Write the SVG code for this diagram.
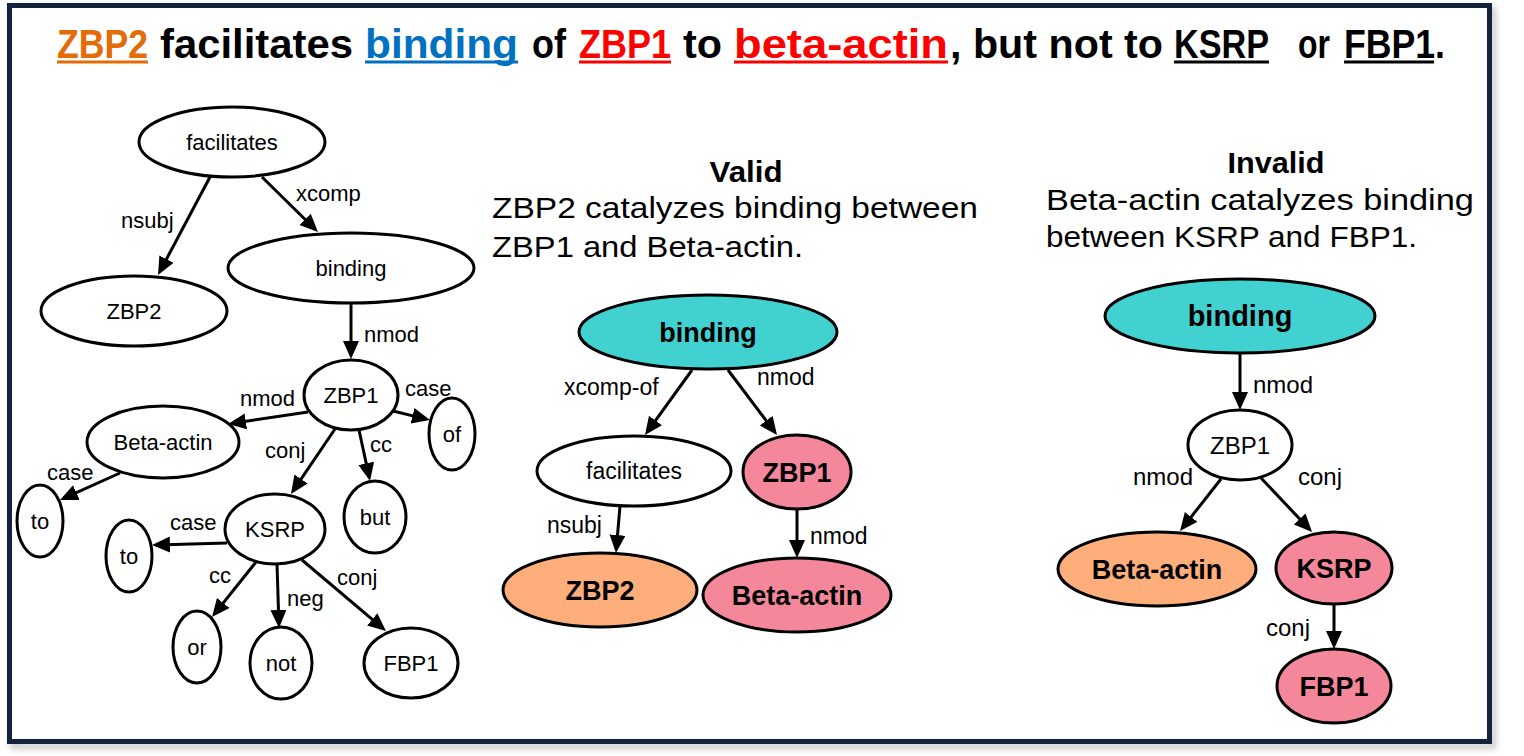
<svg xmlns="http://www.w3.org/2000/svg" width="1524" height="756" viewBox="0 0 1524 756">
<style>
  .n { fill: #fff; stroke: #000; stroke-width: 3; }
  .teal { fill: #41d1d0; stroke: #000; stroke-width: 3; }
  .pink { fill: #f4889a; stroke: #000; stroke-width: 3; }
  .orng { fill: #fdae7a; stroke: #000; stroke-width: 3; }
  .t { font-family: "Liberation Sans", Arial, sans-serif; text-anchor: middle; fill: #000; }
  .l { font-family: "Liberation Sans", Arial, sans-serif; fill: #000; }
  .b { font-weight: bold; }
  .s22 { font-size: 22px; }
  .s23 { font-size: 23px; }
  .s24 { font-size: 24px; }
  .s27 { font-size: 27px; }
  .ttl { font-family: "Liberation Sans", Arial, sans-serif; font-weight: bold; font-size: 41px; }
  .sent { font-family: "Liberation Sans", Arial, sans-serif; font-size: 29px; fill: #000; }
  .edge line { stroke: #000; stroke-width: 3; marker-end: url(#ah); }
  .ul { stroke-width: 3; }
</style>
<defs>
  <marker id="ah" markerUnits="userSpaceOnUse" markerWidth="20" markerHeight="18" refX="14" refY="8" orient="auto">
    <path d="M0,0 L18,8 L0,16 z" fill="#000"/>
  </marker>
  <filter id="sh" x="-5%" y="-5%" width="110%" height="110%">
    <feGaussianBlur stdDeviation="3"/>
  </filter>
</defs>
<rect width="1524" height="756" fill="#fff"/>
<!-- frame -->
<rect x="13" y="10" width="1480" height="736" fill="none" stroke="#c8c8c8" stroke-width="6" filter="url(#sh)"/>
<rect x="9.5" y="5.5" width="1480" height="736" fill="#fff" stroke="#13233f" stroke-width="5"/>

<!-- title -->
<g id="title">
  <text class="ttl" x="57" y="58" fill="#e36c09" textLength="91" lengthAdjust="spacingAndGlyphs">ZBP2</text>
  <text class="ttl" x="160" y="58" fill="#000" textLength="193" lengthAdjust="spacingAndGlyphs">facilitates</text>
  <text class="ttl" x="365" y="58" fill="#0070c0" textLength="153" lengthAdjust="spacingAndGlyphs">binding</text>
  <text class="ttl" x="532" y="58" fill="#000" textLength="34" lengthAdjust="spacingAndGlyphs">of</text>
  <text class="ttl" x="579" y="58" fill="#ff0000" textLength="92" lengthAdjust="spacingAndGlyphs">ZBP1</text>
  <text class="ttl" x="683" y="58" fill="#000" textLength="39" lengthAdjust="spacingAndGlyphs">to</text>
  <text class="ttl" x="734" y="58" fill="#ff0000" textLength="214" lengthAdjust="spacingAndGlyphs">beta-actin</text>
  <text class="ttl" x="950" y="58" fill="#000" textLength="213" lengthAdjust="spacingAndGlyphs">, but not to</text>
  <text class="ttl" x="1174" y="58" fill="#000" textLength="95" lengthAdjust="spacingAndGlyphs">KSRP</text>
  <text class="ttl" x="1298" y="58" fill="#000" textLength="32" lengthAdjust="spacingAndGlyphs">or</text>
  <text class="ttl" x="1344" y="58" fill="#000" textLength="101" lengthAdjust="spacingAndGlyphs">FBP1.</text>
  <line class="ul" x1="57" y1="62" x2="148" y2="62" stroke="#e36c09"/>
  <line class="ul" x1="365" y1="62" x2="518" y2="62" stroke="#0070c0"/>
  <line class="ul" x1="579" y1="62" x2="671" y2="62" stroke="#ff0000"/>
  <line class="ul" x1="734" y1="62" x2="948" y2="62" stroke="#ff0000"/>
  <line class="ul" x1="1174" y1="62" x2="1269" y2="62" stroke="#000"/>
  <line class="ul" x1="1344" y1="62" x2="1434" y2="62" stroke="#000"/>
</g>

<!-- sentences -->
<g id="valid-text">
  <text class="sent b" x="746" y="182" text-anchor="middle" font-size="28" textLength="73" lengthAdjust="spacingAndGlyphs">Valid</text>
  <text class="sent" x="492" y="218" textLength="486" lengthAdjust="spacingAndGlyphs">ZBP2 catalyzes binding between</text>
  <text class="sent" x="492" y="257" textLength="311" lengthAdjust="spacingAndGlyphs">ZBP1 and Beta-actin.</text>
</g>
<g id="invalid-text">
  <text class="sent b" x="1276" y="173" text-anchor="middle" font-size="28" textLength="97" lengthAdjust="spacingAndGlyphs">Invalid</text>
  <text class="sent" x="1046" y="210" textLength="428" lengthAdjust="spacingAndGlyphs">Beta-actin catalyzes binding</text>
  <text class="sent" x="1046" y="247" textLength="371" lengthAdjust="spacingAndGlyphs">between KSRP and FBP1.</text>
</g>

<!-- connectors -->
<g id="connectors" class="edge">
  <line x1="210" y1="177" x2="159.9" y2="271.5"/>
  <line x1="262" y1="177" x2="315.1" y2="229.2"/>
  <line x1="351" y1="303" x2="351" y2="355"/>
  <line x1="308" y1="412" x2="232" y2="423.4"/>
  <line x1="393" y1="411" x2="426.1" y2="419.1"/>
  <line x1="335" y1="429" x2="293.2" y2="490.7"/>
  <line x1="359" y1="430" x2="369.2" y2="477.1"/>
  <line x1="120" y1="473" x2="63.6" y2="498.4"/>
  <line x1="227" y1="543" x2="156" y2="544.9"/>
  <line x1="256" y1="562" x2="214.5" y2="613.9"/>
  <line x1="277" y1="564" x2="278.9" y2="624"/>
  <line x1="302" y1="560" x2="382.9" y2="628.4"/>
  <line x1="692" y1="370" x2="647.3" y2="431.8"/>
  <line x1="728" y1="370" x2="774.6" y2="431.8"/>
  <line x1="620" y1="506" x2="616.3" y2="549"/>
  <line x1="797" y1="509" x2="797" y2="554"/>
  <line x1="1240" y1="353" x2="1240" y2="406"/>
  <line x1="1221" y1="479" x2="1182.5" y2="527.9"/>
  <line x1="1261" y1="478" x2="1309.3" y2="529.1"/>
  <line x1="1334" y1="604" x2="1334" y2="645"/>
</g>
<g id="edge-labels">
  <text class="l s22" x="121" y="228">nsubj</text>
  <text class="l s22" x="296" y="201">xcomp</text>
  <text class="l s22" x="364" y="342">nmod</text>
  <text class="l s22" x="240" y="406">nmod</text>
  <text class="l s22" x="405" y="396">case</text>
  <text class="l s22" x="265" y="458">conj</text>
  <text class="l s22" x="370" y="452">cc</text>
  <text class="l s22" x="47" y="480">case</text>
  <text class="l s22" x="170" y="530">case</text>
  <text class="l s22" x="209" y="583">cc</text>
  <text class="l s22" x="287" y="606">neg</text>
  <text class="l s22" x="337" y="585">conj</text>
  <text class="l s23" x="564" y="395">xcomp-of</text>
  <text class="l s23" x="757" y="385">nmod</text>
  <text class="l s23" x="547" y="533">nsubj</text>
  <text class="l s23" x="810" y="544">nmod</text>
  <text class="l s24" x="1253" y="393">nmod</text>
  <text class="l s24" x="1133" y="485">nmod</text>
  <text class="l s24" x="1298" y="485">conj</text>
  <text class="l s24" x="1266" y="636">conj</text>
</g>

<!-- left tree nodes -->
<g id="L-facilitates"><ellipse class="n" cx="232" cy="142" rx="93" ry="35"/><text class="t s22" x="232" y="150">facilitates</text></g>
<g id="L-ZBP2"><ellipse class="n" cx="134" cy="311" rx="93" ry="35"/><text class="t s22" x="134" y="319">ZBP2</text></g>
<g id="L-binding"><ellipse class="n" cx="351" cy="268" rx="123" ry="35"/><text class="t s22" x="351" y="276">binding</text></g>
<g id="L-ZBP1"><ellipse class="n" cx="351" cy="395" rx="47" ry="35"/><text class="t s22" x="351" y="403">ZBP1</text></g>
<g id="L-of"><ellipse class="n" cx="452" cy="434" rx="23" ry="36"/><text class="t s22" x="452" y="442">of</text></g>
<g id="L-Beta-actin"><ellipse class="n" cx="163" cy="442" rx="76" ry="36"/><text class="t s22" x="163" y="450">Beta-actin</text></g>
<g id="L-to1"><ellipse class="n" cx="40" cy="521" rx="23" ry="36"/><text class="t s22" x="40" y="529">to</text></g>
<g id="L-but"><ellipse class="n" cx="375" cy="517" rx="31" ry="36"/><text class="t s22" x="375" y="525">but</text></g>
<g id="L-KSRP"><ellipse class="n" cx="275" cy="529" rx="50" ry="35"/><text class="t s22" x="275" y="537">KSRP</text></g>
<g id="L-to2"><ellipse class="n" cx="129" cy="556" rx="23" ry="36"/><text class="t s22" x="129" y="564">to</text></g>
<g id="L-or"><ellipse class="n" cx="197" cy="647" rx="24" ry="36"/><text class="t s22" x="197" y="655">or</text></g>
<g id="L-not"><ellipse class="n" cx="281" cy="663" rx="31" ry="36"/><text class="t s22" x="281" y="671">not</text></g>
<g id="L-FBP1"><ellipse class="n" cx="411" cy="663" rx="47" ry="35"/><text class="t s22" x="411" y="671">FBP1</text></g>

<!-- valid tree nodes -->
<g id="V-binding"><ellipse class="teal" cx="708" cy="332" rx="129" ry="37"/><text class="t b s27" x="708" y="342">binding</text></g>
<g id="V-facilitates"><ellipse class="n" cx="634" cy="471" rx="97" ry="35"/><text class="t s23" x="634" y="479">facilitates</text></g>
<g id="V-ZBP1"><ellipse class="pink" cx="797" cy="472" rx="54" ry="37"/><text class="t b s27" x="797" y="482">ZBP1</text></g>
<g id="V-ZBP2"><ellipse class="orng" cx="600" cy="590" rx="97" ry="37"/><text class="t b s27" x="600" y="600">ZBP2</text></g>
<g id="V-Beta-actin"><ellipse class="pink" cx="797" cy="595" rx="94" ry="37"/><text class="t b s27" x="797" y="605">Beta-actin</text></g>

<!-- invalid tree nodes -->
<g id="I-binding"><ellipse class="teal" cx="1240" cy="316" rx="135" ry="37"/><text class="t b" font-size="29" x="1240" y="326">binding</text></g>
<g id="I-ZBP1"><ellipse class="n" cx="1240" cy="445" rx="52" ry="35"/><text class="t s24" x="1240" y="454">ZBP1</text></g>
<g id="I-Beta-actin"><ellipse class="orng" cx="1157" cy="569" rx="99" ry="37"/><text class="t b s27" x="1157" y="579">Beta-actin</text></g>
<g id="I-KSRP"><ellipse class="pink" cx="1334" cy="568" rx="58" ry="36"/><text class="t b s27" x="1334" y="578">KSRP</text></g>
<g id="I-FBP1"><ellipse class="pink" cx="1334" cy="686" rx="57" ry="37"/><text class="t b s27" x="1334" y="696">FBP1</text></g>
</svg>
